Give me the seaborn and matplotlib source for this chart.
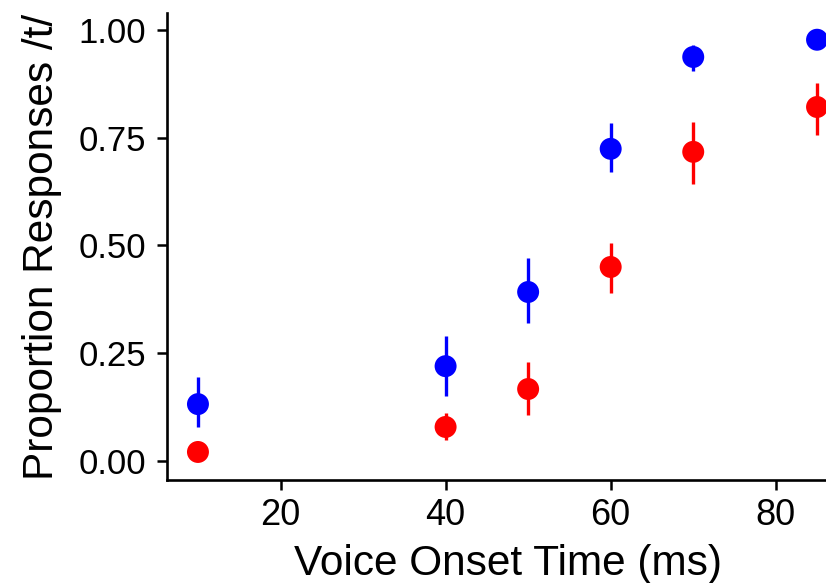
import matplotlib
matplotlib.use("Agg")
import matplotlib.pyplot as plt
import seaborn as sns
import pandas as pd

vot = [10, 40, 50, 60, 70, 85]
blue_mean = [0.132, 0.220, 0.392, 0.724, 0.937, 0.977]
blue_lo = [0.079, 0.151, 0.320, 0.671, 0.905, 0.965]
blue_hi = [0.195, 0.290, 0.471, 0.784, 0.965, 0.990]
red_mean = [0.021, 0.079, 0.167, 0.450, 0.717, 0.821]
red_lo = [0.010, 0.049, 0.107, 0.390, 0.643, 0.756]
red_hi = [0.032, 0.111, 0.230, 0.506, 0.787, 0.877]
groups = ["blue", "red"]
colors = {"blue": "#0000FF", "red": "#FF0000"}

rows = []
for g, m, lo, hi in [("blue", blue_mean, blue_lo, blue_hi), ("red", red_mean, red_lo, red_hi)]:
    for x, mm, l, h in zip(vot, m, lo, hi):
        rows.append({"vot": x, "prop": mm, "lo": l, "hi": h, "group": g})
df = pd.DataFrame(rows)

sns.set_theme(style="ticks")
plt.rcParams["font.family"] = ["Liberation Sans", "DejaVu Sans"]

fig = plt.figure(figsize=(8.26, 5.83), dpi=100)
ax = fig.add_axes([167 / 826, 103 / 583, 681 / 826, 467 / 583])

for g in groups:
    sub = df[df.group == g]
    ax.vlines(sub["vot"], sub["lo"], sub["hi"], color=colors[g], linewidth=2.4, zorder=2)

sns.scatterplot(data=df, x="vot", y="prop", hue="group", palette=colors,
                s=250, edgecolor="none", legend=False, ax=ax, zorder=3)

ax.set_xlim(6.25, 88.75)
ax.set_ylim(-0.044, 1.039)
ax.set_xticks([20, 40, 60, 80])
ax.set_yticks([0.0, 0.25, 0.5, 0.75, 1.0])
ax.set_yticklabels(["0.00", "0.25", "0.50", "0.75", "1.00"])
ax.set_xlabel("Voice Onset Time (ms)", fontsize=30.5, color="black", labelpad=8)
ax.set_ylabel("Proportion Responses /t/", fontsize=30.5, color="black", labelpad=12)
ax.tick_params(axis="both", labelsize=25, colors="black", length=7, width=1.8)
ax.tick_params(axis="x", labelsize=26, pad=6)
ax.tick_params(axis="y", pad=8)
for s in ["top", "right"]:
    ax.spines[s].set_visible(False)
for s in ["left", "bottom"]:
    ax.spines[s].set_linewidth(1.9)
    ax.spines[s].set_color("black")

fig.savefig("out.png", dpi=100)
